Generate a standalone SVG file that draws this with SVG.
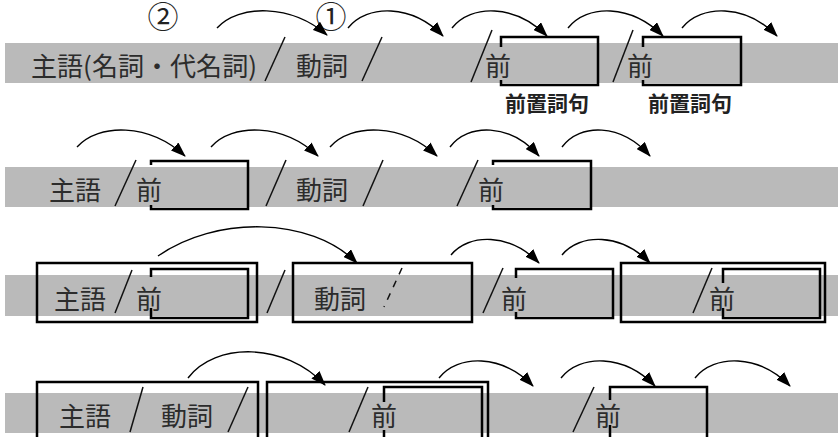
<svg xmlns="http://www.w3.org/2000/svg" width="838" height="437" viewBox="0 0 838 437">
<style>
.band{fill:#bababa}
.t{font-family:"Noto Sans CJK JP","Noto Sans",sans-serif;font-size:26px;fill:#2c2c2c}
.lbl{font-family:"Noto Sans CJK JP","Noto Sans",sans-serif;font-size:21px;font-weight:bold;fill:#222}
.num{font-family:"Noto Sans CJK JP","Noto Sans",sans-serif;font-size:31px;fill:#222;text-anchor:middle}
.sl{stroke:#111;stroke-width:1.5;fill:none}
.bx{stroke:#000;stroke-width:2.5;fill:none}
.arc{stroke:#000;stroke-width:1.4;fill:none;marker-end:url(#ah)}
</style>
<defs>
<marker id="ah" markerUnits="userSpaceOnUse" markerWidth="15" markerHeight="11" refX="14" refY="5.5" orient="auto">
<path d="M0,0 L15,5.5 L0,11 z" fill="#000"/>
</marker>
</defs>
<rect width="838" height="437" fill="#fff"/>

<!-- bands -->
<g id="bands">
<rect class="band" x="5" y="43" width="833" height="40"/>
<rect class="band" x="5" y="167" width="833" height="40"/>
<rect class="band" x="5" y="275" width="833" height="41"/>
<rect class="band" x="5" y="393" width="833" height="40"/>
</g>

<!-- row 1 -->
<g id="r1-subject"><text class="t" x="31" y="76" textLength="226" lengthAdjust="spacingAndGlyphs">主語(名詞・代名詞)</text></g>
<g id="r1-verb"><text class="t" x="296" y="76">動詞</text></g>
<g id="r1-pp1"><path class="bx" d="M501,47 V37 H598 V85 H501 V80"/><text class="t" x="485" y="76">前</text><text class="lbl" x="505" y="111">前置詞句</text></g>
<g id="r1-pp2"><path class="bx" d="M643,47 V37 H741 V85 H643 V80"/><text class="t" x="627" y="76">前</text><text class="lbl" x="648" y="111">前置詞句</text></g>
<g id="r1-nums"><text class="num" x="163" y="28">②</text><text class="num" x="331" y="28">①</text></g>
<g id="r1-slashes">
<line class="sl" x1="285" y1="37" x2="265" y2="81"/>
<line class="sl" x1="382" y1="37" x2="362" y2="81"/>
<line class="sl" x1="492" y1="30" x2="471" y2="82"/>
<line class="sl" x1="633" y1="30" x2="613" y2="82"/>
</g>

<!-- row 2 -->
<g id="r2-subject"><text class="t" x="49" y="200">主語</text></g>
<g id="r2-pp1"><path class="bx" d="M151,165 V161 H248 V209 H151 V205"/><text class="t" x="136" y="200">前</text></g>
<g id="r2-verb"><text class="t" x="296" y="200">動詞</text></g>
<g id="r2-pp2"><path class="bx" d="M493,165 V161 H591 V209 H493 V205"/><text class="t" x="478" y="200">前</text></g>
<g id="r2-slashes">
<line class="sl" x1="136" y1="160" x2="115" y2="206"/>
<line class="sl" x1="286" y1="160" x2="266" y2="206"/>
<line class="sl" x1="383" y1="160" x2="363" y2="206"/>
<line class="sl" x1="478" y1="160" x2="457" y2="206"/>
</g>

<!-- row 3 -->
<g id="r3-subject-block"><rect class="bx" x="37" y="263" width="220" height="59"/><path class="bx" d="M151,277 V269 H248 V318 H151 V308"/><text class="t" x="54" y="309">主語</text><text class="t" x="136" y="309">前</text></g>
<g id="r3-verb-block"><rect class="bx" x="293" y="263" width="179" height="59"/><text class="t" x="314" y="309">動詞</text></g>
<g id="r3-pp"><path class="bx" d="M516,278 V269 H613 V318 H516 V312"/><text class="t" x="501" y="309">前</text></g>
<g id="r3-obj-block"><rect class="bx" x="621" y="263" width="204" height="59"/><path class="bx" d="M723,283 V269 H820 V318 H723 V308"/><text class="t" x="709" y="309">前</text></g>
<g id="r3-slashes">
<line class="sl" x1="132" y1="270" x2="115" y2="313"/>
<line class="sl" x1="285" y1="270" x2="267" y2="313"/>
<line class="sl" x1="402" y1="268" x2="384" y2="307" stroke-dasharray="7,7"/>
<line class="sl" x1="503" y1="268" x2="483" y2="313"/>
<line class="sl" x1="712" y1="268" x2="693" y2="313"/>
</g>

<!-- row 4 -->
<g id="r4-sv-block"><rect class="bx" x="37" y="382" width="221" height="70"/><text class="t" x="59" y="426">主語</text><text class="t" x="161" y="426">動詞</text></g>
<g id="r4-pp-block"><rect class="bx" x="267" y="382" width="221" height="70"/><path class="bx" d="M384,402 V387 H482 V445 M384,430 V445"/><text class="t" x="371" y="426">前</text></g>
<g id="r4-pp2"><path class="bx" d="M610,400 V387 H707 V445 M610,425 V445"/><text class="t" x="595" y="426">前</text></g>
<g id="r4-slashes">
<line class="sl" x1="143" y1="387" x2="130" y2="432"/>
<line class="sl" x1="248" y1="387" x2="228" y2="432"/>
<line class="sl" x1="368" y1="387" x2="349" y2="432"/>
<line class="sl" x1="594" y1="387" x2="573" y2="432"/>
</g>

<!-- connectors -->
<g id="connectors">
<path class="arc" d="M217,28 C239,4 291,4 327,35"/>
<path class="arc" d="M348,28 C367,4 412,4 443,36"/>
<path class="arc" d="M452,28 C471,4 515,4 547,36"/>
<path class="arc" d="M568,28 C587,4 631,4 663,36"/>
<path class="arc" d="M682,28 C701,4 746,4 777,36"/>

<path class="arc" d="M77,147 C99,123 149,123 185,156"/>
<path class="arc" d="M211,147 C232,123 283,123 318,156"/>
<path class="arc" d="M330,147 C351,123 402,123 437,156"/>
<path class="arc" d="M450,147 C468,123 510,123 539,156"/>
<path class="arc" d="M562,147 C580,123 621,123 650,156"/>

<path class="arc" d="M158,256 C215,216 310,216 357,263"/>
<path class="arc" d="M451,255 C469,233 510,233 539,263"/>
<path class="arc" d="M562,255 C580,233 621,233 650,263"/>

<path class="arc" d="M188,378 C215,342 285,342 325,385"/>
<path class="arc" d="M439,378 C458,354 502,354 533,386"/>
<path class="arc" d="M561,378 C580,354 624,354 655,386"/>
<path class="arc" d="M695,378 C714,354 759,354 790,386"/>
</g>
</svg>
